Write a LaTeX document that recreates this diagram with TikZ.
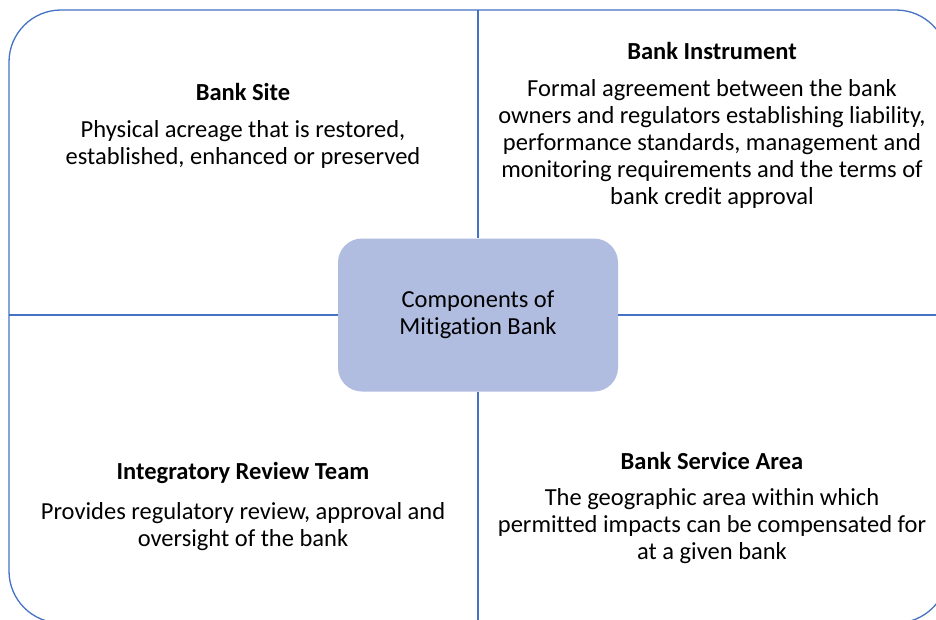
\documentclass[tikz,border=0pt]{standalone}
\usepackage{fontspec}
\setmainfont{Carlito}[Ligatures=NoCommon]
\definecolor{frameblue}{RGB}{68,114,196}
\definecolor{corefill}{RGB}{176,188,224}

\begin{document}
\begin{tikzpicture}[x=1pt,y=-1pt,
    rule/.style={draw=frameblue,line width=1.3pt},
    core/.style={fill=corefill,rounded corners=24pt,minimum width=280pt,minimum height=153pt,align=center,font=\fontsize{24.5}{27}\selectfont},
    heading/.style={font=\fontsize{24.5}{27}\selectfont\bfseries},
    blurb/.style={align=center,font=\fontsize{24.5}{27}\selectfont}]
    \clip (0,0) rectangle (936,619);
    \draw[rule,rounded corners=52pt] (9,10) rectangle (948,623);
    \node[core] (core) at (478,315) {Components of\\Mitigation Bank};
    \coordinate (top) at (478,10);
    \coordinate (bottom) at (478,623);
    \coordinate (left) at (9,315);
    \coordinate (right) at (948,315);
    \foreach \a in {top,bottom,left,right}
      \draw[rule] (core) -- (\a);
    \node[heading] (siteh) at (243,92) {Bank Site};
    \node[blurb] (site) at (243,144.5) {Physical acreage that is restored,\\established, enhanced or preserved};
    \node[heading] (insth) at (712,51) {Bank Instrument};
    \node[blurb] (inst) at (712,143.5) {Formal agreement between the bank\\owners and regulators establishing liability,\\performance standards, management and\\monitoring requirements and the terms of\\bank credit approval};
    \node[heading] (teamh) at (243,473) {Integratory Review Team};
    \node[blurb] (team) at (243,526.5) {Provides regulatory review, approval and\\oversight of the bank};
    \node[heading] (areah) at (712,461) {Bank Service Area};
    \node[blurb] (area) at (712,526) {The geographic area within which\\permitted impacts can be compensated for\\at a given bank};
  \end{tikzpicture}
\end{document}
